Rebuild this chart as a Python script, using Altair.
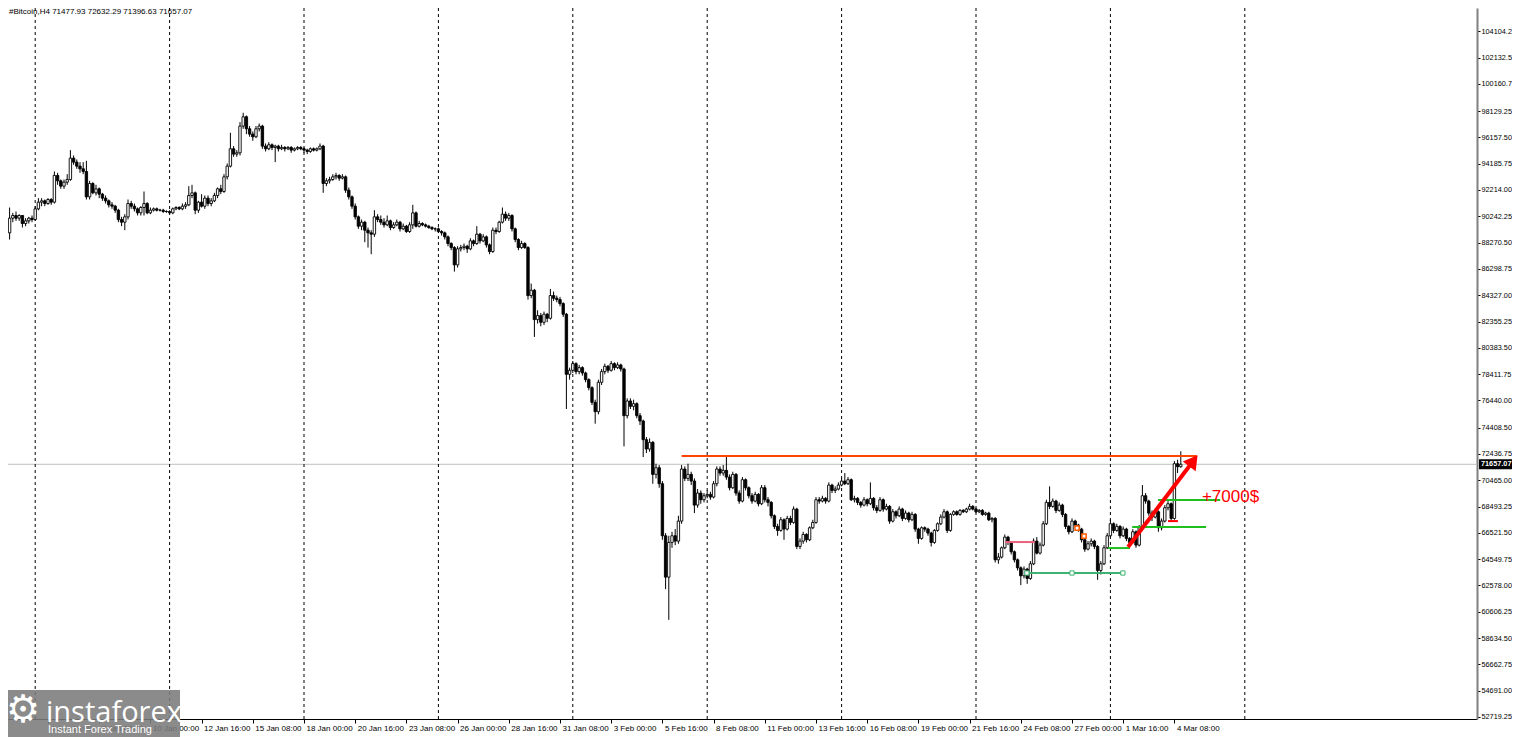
import json
import pandas as pd
import altair as alt

# ---------------- data ----------------
# H4 bars, bar index counted from 2 Jan 2026 00:00 (index 0)
FIRST_BAR = 4
# (open, high, low, close) in thousands of USD
CANDLES_K = [
    # i4-13
    (89.0,90.9,88.5,90.1),(90.1,90.5,89.8,90.3),(90.3,90.6,89.9,90.1),(90.1,90.4,89.9,90.3),(90.3,90.3,89.4,89.7),(89.7,90.1,89.5,89.9),(89.9,90.2,89.7,90.1),(90.1,90.3,89.8,90.0),(90.0,91.0,89.9,90.8),(90.8,91.6,90.7,91.3),
    # i14-23
    (91.3,91.6,91.0,91.4),(91.4,91.5,91.0,91.2),(91.2,91.6,91.1,91.5),(91.5,91.6,91.1,91.3),(91.3,93.6,91.2,93.3),(93.3,93.5,92.6,92.9),(92.9,93.0,92.3,92.5),(92.5,93.0,92.3,92.8),(92.8,93.4,92.6,93.0),(93.0,95.2,92.9,94.6),
    # i24-33
    (94.6,94.8,94.1,94.3),(94.3,94.5,93.8,94.0),(94.0,94.3,93.5,93.8),(93.8,94.3,93.4,93.6),(93.6,94.4,91.5,91.7),(91.7,92.9,91.5,92.7),(92.7,92.8,91.9,92.0),(92.0,92.6,91.8,92.3),(92.3,92.4,91.6,91.9),(91.9,92.0,91.4,91.6),
    # i34-43
    (91.6,91.8,91.2,91.4),(91.4,91.5,90.9,91.1),(91.1,91.3,90.8,91.0),(91.0,91.1,90.5,90.7),(90.7,90.8,89.8,90.0),(90.0,90.2,89.5,89.8),(89.8,90.4,89.2,90.2),(90.2,91.5,90.0,91.2),(91.2,91.4,90.8,91.0),(91.0,91.2,90.6,90.8),
    # i44-53
    (90.8,90.9,90.3,90.5),(90.5,91.0,90.3,90.9),(90.9,92.1,90.3,91.2),(91.2,91.3,90.4,90.5),(90.5,90.9,90.4,90.7),(90.7,90.9,90.6,90.8),(90.8,90.9,90.6,90.7),(90.7,90.8,90.6,90.7),(90.7,90.8,90.5,90.6),(90.6,90.7,90.5,90.6),
    # i54-63
    (90.6,90.7,90.4,90.5),(90.5,90.9,90.4,90.8),(90.8,91.0,90.7,90.9),(90.9,91.0,90.7,90.8),(90.8,91.2,90.7,91.0),(91.0,91.3,90.8,91.1),(91.1,92.5,91.0,91.8),(91.8,92.6,91.6,92.0),(92.0,92.1,90.4,90.7),(90.7,91.4,90.5,91.3),
    # i64-73
    (91.3,91.9,90.9,91.0),(91.0,91.8,90.8,91.6),(91.6,91.8,91.0,91.2),(91.2,91.6,91.0,91.4),(91.4,92.0,91.3,91.8),(91.8,92.4,91.6,92.3),(92.3,92.6,91.9,92.1),(92.1,93.4,92.0,93.2),(93.2,94.2,93.0,94.0),(94.0,96.5,93.9,95.3),
    # i74-83
    (95.3,95.5,94.7,94.9),(94.9,95.2,94.7,95.0),(95.0,97.3,94.8,97.0),(97.0,98.0,96.8,97.7),(97.7,97.8,96.4,96.8),(96.8,97.0,96.2,96.4),(96.4,96.6,95.9,96.2),(96.2,97.0,96.1,96.8),(96.8,97.2,96.6,97.0),(97.0,97.1,95.3,95.5),
    # i84-93
    (95.5,95.7,95.1,95.3),(95.3,95.8,95.2,95.6),(95.6,95.7,95.2,95.4),(95.4,95.6,94.3,95.5),(95.5,95.6,95.1,95.3),(95.3,95.6,95.2,95.4),(95.4,95.5,95.1,95.3),(95.3,95.5,95.2,95.4),(95.4,95.5,95.0,95.2),(95.2,95.4,95.1,95.3),
    # i94-103
    (95.3,95.5,95.2,95.4),(95.4,95.5,95.2,95.3),(95.3,95.4,95.0,95.2),(95.2,95.3,94.9,95.1),(95.1,95.4,95.0,95.3),(95.3,95.4,95.1,95.2),(95.2,95.4,95.1,95.3),(95.3,95.7,95.2,95.5),(95.5,95.6,92.0,92.7),(92.7,93.1,92.5,92.9),
    # i104-113
    (92.9,93.2,92.7,93.0),(93.0,93.4,92.9,93.2),(93.2,93.5,93.0,93.3),(93.3,93.4,92.9,93.1),(93.1,93.4,93.0,93.2),(93.2,93.3,92.0,92.2),(92.2,92.4,91.5,91.7),(91.7,91.8,90.8,91.0),(91.0,91.2,90.0,90.2),(90.2,90.3,89.3,89.5),
    # i114-123
    (89.5,90.0,89.2,89.8),(89.8,89.9,88.3,89.2),(89.2,89.4,87.9,89.0),(89.0,89.2,87.4,88.9),(88.9,90.7,88.7,90.2),(90.2,90.4,89.8,90.0),(90.0,90.3,89.6,89.8),(89.8,90.1,89.4,89.6),(89.6,90.3,89.5,89.9),(89.9,90.0,89.2,89.4),
    # i124-133
    (89.4,89.8,89.3,89.6),(89.6,90.0,89.5,89.8),(89.8,89.9,89.1,89.3),(89.3,89.7,89.2,89.5),(89.5,89.6,89.0,89.1),(89.1,89.8,89.0,89.6),(89.6,91.1,89.3,90.5),(90.5,90.6,89.4,89.5),(89.5,89.9,89.4,89.7),(89.7,89.8,89.5,89.6),
    # i134-143
    (89.6,89.7,89.4,89.5),(89.5,89.6,89.3,89.4),(89.4,89.5,89.2,89.3),(89.3,89.4,89.1,89.3),(89.3,89.4,89.0,89.1),(89.1,89.2,88.8,89.0),(89.0,89.1,88.5,88.7),(88.7,88.8,88.0,88.2),(88.2,88.3,87.7,87.9),(87.9,88.0,86.1,86.6),
    # i144-153
    (86.6,88.0,86.4,87.8),(87.8,88.1,87.6,87.9),(87.9,88.2,87.7,88.0),(88.0,88.1,87.5,87.8),(87.8,88.6,87.7,88.4),(88.4,88.5,88.0,88.2),(88.2,89.5,88.1,88.9),(88.9,89.0,88.2,88.4),(88.4,88.9,88.3,88.7),(88.7,88.8,87.9,88.1),
    # i154-163
    (88.1,88.2,87.4,87.6),(87.6,89.4,87.5,89.2),(89.2,89.4,88.9,89.1),(89.1,89.9,89.0,89.8),(89.8,90.9,89.7,90.4),(90.4,90.6,89.9,90.1),(90.1,90.5,89.9,90.3),(90.3,90.4,89.1,89.3),(89.3,89.4,88.3,88.5),(88.5,88.6,87.7,87.9),
    # i164-173
    (87.9,88.4,87.8,88.2),(88.2,88.3,87.8,87.9),(87.9,88.0,84.0,84.3),(84.3,85.2,84.1,84.7),(84.7,84.8,81.2,82.5),(82.5,83.2,82.2,82.8),(82.8,83.0,82.0,82.3),(82.3,83.1,82.1,82.9),(82.9,83.0,82.3,82.6),(82.6,84.8,82.5,84.3),
    # i174-183
    (84.3,84.6,83.9,84.1),(84.1,84.3,83.8,84.0),(84.0,84.2,83.5,83.7),(83.7,83.8,82.7,82.9),(82.9,83.0,75.8,78.4),(78.4,78.9,78.0,78.7),(78.7,79.4,78.5,79.2),(79.2,79.3,78.4,78.6),(78.6,79.1,78.4,78.9),(78.9,79.0,78.3,78.5),
    # i184-193
    (78.5,78.6,77.8,78.0),(78.0,78.1,77.2,77.4),(77.4,77.5,76.1,76.3),(76.3,76.5,74.7,75.6),(75.6,78.0,75.4,77.8),(77.8,78.8,77.6,78.6),(78.6,79.2,78.4,79.0),(79.0,79.1,78.5,78.7),(78.7,79.4,78.6,79.2),(79.2,79.3,78.7,78.9),
    # i194-203
    (78.9,79.3,78.8,79.1),(79.1,79.2,78.6,78.8),(78.8,78.9,73.0,75.3),(75.3,76.6,75.1,76.4),(76.4,76.6,75.8,76.0),(76.0,76.5,75.7,76.2),(76.2,76.3,75.1,75.3),(75.3,75.5,74.6,74.9),(74.9,75.0,72.2,73.5),(73.5,73.7,72.5,72.8),
    # i204-213
    (72.8,73.6,72.6,73.3),(73.3,73.4,70.2,70.9),(70.9,71.7,70.6,71.4),(71.4,71.6,69.9,70.2),(70.2,70.4,66.0,66.3),(66.3,66.5,62.3,63.2),(63.2,66.3,60.0,65.8),(65.8,66.6,65.4,66.3),(66.3,66.8,65.6,65.9),(65.9,67.8,65.7,67.4),
    # i214-223
    (67.4,71.6,67.2,71.3),(71.3,71.5,70.4,70.6),(70.6,71.7,70.4,70.9),(70.9,71.1,70.1,70.4),(70.4,70.6,68.0,68.6),(68.6,69.8,68.4,69.5),(69.5,69.7,68.7,69.0),(69.0,69.5,68.8,69.3),(69.3,69.7,69.1,69.4),(69.4,69.6,69.0,69.2),
    # i224-233
    (69.2,70.4,69.1,70.2),(70.2,71.5,70.0,71.3),(71.3,71.5,70.8,71.0),(71.0,71.6,70.8,71.2),(71.2,72.2,70.5,70.7),(70.7,70.9,69.7,69.9),(69.9,71.1,69.8,70.9),(70.9,71.0,69.3,69.5),(69.5,69.7,68.7,68.9),(68.9,70.7,68.8,70.5),
    # i234-243
    (70.5,70.6,69.7,69.9),(69.9,70.0,69.1,69.3),(69.3,69.5,68.7,68.9),(68.9,69.6,68.8,69.4),(69.4,69.5,68.5,68.7),(68.7,70.1,68.6,69.9),(69.9,70.1,68.8,69.0),(69.0,69.2,68.5,68.8),(68.8,68.9,67.6,67.8),(67.8,67.9,66.8,67.0),
    # i244-253
    (67.0,67.2,66.3,66.7),(66.7,67.7,66.6,67.5),(67.5,67.6,66.0,66.8),(66.8,67.8,66.7,67.6),(67.6,67.8,67.1,67.3),(67.3,68.5,67.2,68.3),(68.3,68.4,65.3,65.5),(65.5,66.1,65.3,65.9),(65.9,66.6,65.7,66.4),(66.4,66.5,65.8,66.0),
    # i254-263
    (66.0,67.0,65.9,66.9),(66.9,67.5,66.8,67.3),(67.3,69.2,67.2,69.0),(69.0,69.2,68.7,68.9),(68.9,69.3,68.8,69.1),(69.1,69.2,68.7,68.9),(68.9,70.3,68.8,70.1),(70.1,70.2,69.5,69.7),(69.7,70.0,69.5,69.8),(69.8,70.3,69.7,70.1),
    # i264-273
    (70.1,70.6,70.0,70.4),(70.4,71.0,70.1,70.2),(70.2,70.7,70.1,70.5),(70.5,70.6,68.9,69.0),(69.0,69.3,68.8,69.1),(69.1,69.2,68.6,68.8),(68.8,68.9,68.4,68.6),(68.6,69.2,68.5,69.0),(69.0,69.1,68.5,68.7),(68.7,70.3,68.6,69.1),
    # i274-283
    (69.1,69.2,68.2,68.4),(68.4,68.6,68.0,68.2),(68.2,69.2,68.1,69.0),(69.0,69.1,68.1,68.3),(68.3,68.7,68.2,68.5),(68.5,68.6,67.2,67.4),(67.4,68.3,67.3,68.1),(68.1,68.2,67.6,67.8),(67.8,68.5,67.7,68.3),(68.3,68.4,67.4,67.6),
    # i284-293
    (67.6,68.2,67.5,68.0),(68.0,68.1,67.3,67.5),(67.5,68.1,67.4,67.9),(67.9,68.0,66.6,66.8),(66.8,66.9,65.7,66.1),(66.1,67.0,66.0,66.9),(66.9,67.0,66.6,66.8),(66.8,66.9,66.3,66.5),(66.5,66.6,65.5,65.8),(65.8,66.8,65.7,66.7),
    # i294-303
    (66.7,67.3,66.6,67.2),(67.2,67.9,67.1,67.7),(67.7,68.3,67.6,68.1),(68.1,68.2,66.5,66.7),(66.7,68.0,66.6,67.9),(67.9,68.2,67.8,68.1),(68.1,68.2,67.8,67.9),(67.9,68.3,67.8,68.2),(68.2,68.3,68.0,68.1),(68.1,68.4,68.0,68.3),
    # i304-313
    (68.3,68.7,68.2,68.5),(68.5,68.6,68.2,68.3),(68.3,68.4,68.0,68.1),(68.1,68.3,68.0,68.2),(68.2,68.3,67.8,67.9),(67.9,68.1,67.8,68.0),(68.0,68.1,67.4,67.5),(67.5,67.7,67.3,67.6),(67.6,67.7,64.3,64.5),(64.5,65.0,64.2,64.7),
    # i314-323
    (64.7,65.5,64.6,65.4),(65.4,66.4,65.3,66.2),(66.2,66.3,65.6,65.8),(65.8,65.9,64.9,65.1),(65.1,65.2,64.3,64.5),(64.5,64.6,63.7,63.9),(63.9,64.0,62.6,63.3),(63.3,64.0,63.1,63.8),(63.8,63.9,62.7,63.1),(63.1,64.4,63.0,64.2),
    # i324-333
    (64.2,66.1,64.1,65.9),(65.9,66.2,64.9,65.0),(65.0,65.8,64.9,65.6),(65.6,67.4,65.5,67.2),(67.2,69.0,67.1,68.8),(68.8,70.0,68.3,68.5),(68.5,69.1,68.4,68.9),(68.9,69.0,68.0,68.2),(68.2,68.8,68.1,68.6),(68.6,68.7,67.7,67.9),
    # i334-343
    (67.9,68.0,66.8,67.0),(67.0,67.1,66.4,66.6),(66.6,67.6,66.5,67.4),(67.4,67.5,66.9,67.1),(67.1,67.2,66.6,66.8),(66.8,66.9,65.8,66.0),(66.0,66.1,65.1,65.3),(65.3,65.9,65.2,65.7),(65.7,66.1,65.5,65.9),(65.9,66.0,65.3,65.5),
    # i344-353
    (65.5,65.6,63.0,63.7),(63.7,64.4,63.4,64.2),(64.2,65.6,64.1,65.4),(65.4,66.5,65.3,66.3),(66.3,67.5,66.2,67.2),(67.2,67.3,66.5,66.7),(66.7,67.2,66.6,67.0),(67.0,67.1,66.1,66.3),(66.3,67.0,66.2,66.8),(66.8,66.9,65.9,66.1),
    # i354-363
    (66.1,66.2,65.6,65.8),(65.8,66.8,65.7,66.6),(66.6,66.7,65.4,65.6),(65.6,67.1,65.5,66.9),(66.9,70.1,66.8,69.3),(69.3,69.5,68.7,68.9),(68.9,69.0,67.8,68.0),(68.0,68.2,67.4,67.7),(67.7,68.3,67.6,68.1),(68.1,68.2,66.6,66.9),
    # i364-370
    (66.9,67.6,66.7,67.4),(67.4,68.6,67.3,68.4),(68.4,68.9,68.2,68.7),(68.7,68.8,67.4,67.6),(67.6,71.9,67.5,71.7),(71.7,72.0,71.0,71.47793),(71.47793,72.63229,71.39663,71.65707),
]

LAST_PRICE = 71657.07
HEADER_TEXT = "#Bitcoin,H4  71477.93 72632.29 71396.63 71657.07"

# x axis (bar index -> label)
LABEL_BARS = [0, 16, 32, 48, 64, 80, 96, 112, 128, 144, 160, 176, 192, 208, 224, 240,
              256, 272, 288, 304, 320, 336, 352, 368]
LABEL_TEXT = ["2 Jan 2026", "4 Jan 16:00", "7 Jan 08:00", "10 Jan 00:00", "12 Jan 16:00",
              "15 Jan 08:00", "18 Jan 00:00", "20 Jan 16:00", "23 Jan 08:00", "26 Jan 00:00",
              "28 Jan 16:00", "31 Jan 08:00", "3 Feb 00:00", "5 Feb 16:00", "8 Feb 08:00",
              "11 Feb 00:00", "13 Feb 16:00", "16 Feb 08:00", "19 Feb 00:00", "21 Feb 16:00",
              "24 Feb 08:00", "27 Feb 00:00", "1 Mar 16:00", "4 Mar 08:00"]
# weekly separators (Sunday 00:00)
GRID_BARS = [12, 54, 96, 138, 180, 222, 264, 306, 348, 390]

# price axis tick labels
Y_TICKS = [106076.0, 104104.25, 102132.5, 100160.75, 98129.25, 96157.5, 94185.75, 92214.0,
           90242.25, 88270.5, 86298.75, 84327.0, 82355.25, 80383.5, 78411.75, 76440.0,
           74408.5, 72436.75, 70465.0, 68493.25, 66521.5, 64549.75, 62578.0, 60606.25,
           58634.5, 56662.75, 54691.0, 52719.25]

# drawn level lines: start bar, end bar, price
LEVEL_START = [214.0, 362.9, 354.8, 347.3, 321.3, 315.1, 366.0]
LEVEL_END   = [375.0, 382.3, 377.9, 354.1, 351.9, 324.4, 369.1]
LEVEL_PRICE = [72280, 68980, 66960, 65380, 63510, 65830, 67400]
LEVEL_KIND  = ["resistance", "target1", "target2", "entry", "support", "pink", "stop"]

SUPPORT_ANCHOR_BARS = [321.9, 336.0, 351.9]
ORANGE_ANCHOR_BARS = [337.6, 339.75]
ORANGE_ANCHOR_PRICES = [66880, 66280]

ARROW_FROM = (353.5, 65460)
ARROW_TO = (373.94, 71918)
NOTE_POS = (376.6, 69206)
NOTE_TEXT = "+7000$"

# ---------------- build ----------------
rows = []
for k, (o, h, l, c) in enumerate(CANDLES_K):
    rows.append({"i": FIRST_BAR + k, "o": o * 1000, "h": h * 1000, "l": l * 1000, "c": c * 1000})
df = pd.DataFrame(rows)

W, H = 1469, 711
XS = alt.Scale(domain=[3.5, 3.5 + W / 3.2], nice=False, zero=False, padding=0)
YS = alt.Scale(domain=[52569, 105851], nice=False, zero=False, padding=0)
FONT = "Liberation Sans"

label_expr = json.dumps(LABEL_TEXT) + "[round(datum.value / 16)]"
XA = alt.Axis(values=LABEL_BARS, labelExpr=label_expr, title=None, grid=False, orient="bottom",
              domainColor="black", domainWidth=1, tickColor="black", tickSize=4,
              labelFont=FONT, labelFontSize=8, labelColor="black", labelAlign="left",
              labelOffset=2, labelPadding=1, labelFlush=False, labelOverlap=False, labelBound=False)
YA = alt.Axis(values=Y_TICKS, format=".2f", title=None, grid=False, orient="right",
              domainColor="#808080", domainWidth=2, tickColor="black", tickSize=3,
              labelFont=FONT, labelFontSize=7.3, labelColor="black", labelAlign="left",
              labelBaseline="middle", labelPadding=1, labelFlush=False, labelOverlap=False,
              labelBound=False)


def X(f):
    return alt.X(f, type="quantitative", scale=XS, axis=XA)


def Y(f):
    return alt.Y(f, type="quantitative", scale=YS, axis=YA)


price_df = pd.DataFrame({"p": [LAST_PRICE], "t": [f"{LAST_PRICE:.2f}"]})
price_line = alt.Chart(price_df).mark_rule(color="#c0c0c0", strokeWidth=1).encode(y=Y("p"))

grid = alt.Chart(pd.DataFrame({"g": GRID_BARS})).mark_rule(
    color="black", strokeWidth=1, strokeDash=[3, 3]).encode(x=X("g"))

wicks = alt.Chart(df).mark_rule(color="black", strokeWidth=1).encode(
    x=X("i"), y=Y("l"), y2=alt.Y2("h"))
bodies = alt.Chart(df).mark_bar(size=2.4, stroke="black", strokeWidth=0.9).encode(
    x=X("i"), y=Y("o"), y2=alt.Y2("c"),
    fill=alt.condition("datum.c >= datum.o", alt.value("white"), alt.value("black")))

LEVEL_STYLE = {
    "resistance": "#ff4500",
    "target1": "#1fbf1f",
    "target2": "#1fbf1f",
    "entry": "#1fbf1f",
    "support": "#3cb371",
    "pink": "#e8607a",
    "stop": "#ff0000",
}
lv = pd.DataFrame({"a": LEVEL_START, "b": LEVEL_END, "p": LEVEL_PRICE, "k": LEVEL_KIND})
levels = alt.Chart(lv).mark_rule(strokeWidth=2).encode(
    x=X("a"), x2=alt.X2("b"), y=Y("p"),
    color=alt.Color("k:N", scale=alt.Scale(domain=list(LEVEL_STYLE),
                                            range=list(LEVEL_STYLE.values())),
                    legend=None))

sup_anchors = alt.Chart(pd.DataFrame({"a": SUPPORT_ANCHOR_BARS, "p": [LEVEL_PRICE[4]] * 3})).mark_point(
    shape="square", size=18, filled=True, fill="white", stroke="#3cb371", strokeWidth=1, opacity=1
).encode(x=X("a"), y=Y("p"))
org_anchors = alt.Chart(pd.DataFrame({"a": ORANGE_ANCHOR_BARS, "p": ORANGE_ANCHOR_PRICES})).mark_point(
    shape="square", size=18, filled=True, fill="white", stroke="#ff5a00", strokeWidth=1.5, opacity=1
).encode(x=X("a"), y=Y("p"))

arrow_df = pd.DataFrame({"a": [ARROW_FROM[0]], "pa": [ARROW_FROM[1]],
                         "b": [ARROW_TO[0]], "pb": [ARROW_TO[1]]})
arrow_line = alt.Chart(arrow_df).mark_rule(color="#ff0000", strokeWidth=4).encode(
    x=X("a"), y=Y("pa"), x2=alt.X2("b"), y2=alt.Y2("pb"))
arrow_head = alt.Chart(arrow_df).mark_point(
    shape="triangle-up", size=260, filled=True, color="#ff0000", opacity=1, angle=37
).encode(x=X("b"), y=Y("pb"))

note = alt.Chart(pd.DataFrame({"a": [NOTE_POS[0]], "p": [NOTE_POS[1]], "t": [NOTE_TEXT]})).mark_text(
    align="left", baseline="middle", fontSize=17, font=FONT, color="#ff0000"
).encode(x=X("a"), y=Y("p"), text="t:N")

price_box = alt.Chart(price_df).mark_rect(color="black", yOffset=-5, y2Offset=5).encode(
    x=alt.value(W + 2), x2=alt.value(W + 35), y=Y("p"), y2=alt.Y2("p"))
price_txt = alt.Chart(price_df).mark_text(
    align="left", baseline="middle", fontSize=7.3, font=FONT, color="white", fontWeight="bold"
).encode(x=alt.value(W + 4), y=Y("p"), text="t:N")

one = pd.DataFrame({"z": [0]})
header = alt.Chart(one).mark_text(
    align="left", baseline="top", fontSize=8, font=FONT, color="black", text=HEADER_TEXT
).encode(x=alt.value(1), y=alt.value(0))

wm_box = alt.Chart(one).mark_rect(color="#7b7b7b", opacity=0.88).encode(
    x=alt.value(0), x2=alt.value(172), y=alt.value(682), y2=alt.value(729))
wm_icon = alt.Chart(one).mark_text(
    align="center", baseline="middle", fontSize=38, font="DejaVu Sans", color="white", text="\u2699"
).encode(x=alt.value(15), y=alt.value(703))
wm_name = alt.Chart(one).mark_text(
    align="left", baseline="alphabetic", fontSize=29, font="Open Sans", color="white", text="instaforex"
).encode(x=alt.value(38), y=alt.value(714))
wm_tag = alt.Chart(one).mark_text(
    align="left", baseline="middle", fontSize=11, font=FONT, color="white", text="Instant Forex Trading"
).encode(x=alt.value(40), y=alt.value(722))

chart = alt.layer(
    price_line, grid, wicks, bodies, levels, sup_anchors, org_anchors,
    arrow_line, arrow_head, note, price_box, price_txt, header,
    wm_box, wm_icon, wm_name, wm_tag,
).properties(
    width=W, height=H,
    autosize=alt.AutoSizeParams(type="none"),
    padding={"left": 0, "top": 0, "right": 35, "bottom": 18},
    background="white",
).configure_view(strokeWidth=0)

chart.save("out.html", embed_options={"renderer": "svg", "actions": False})
